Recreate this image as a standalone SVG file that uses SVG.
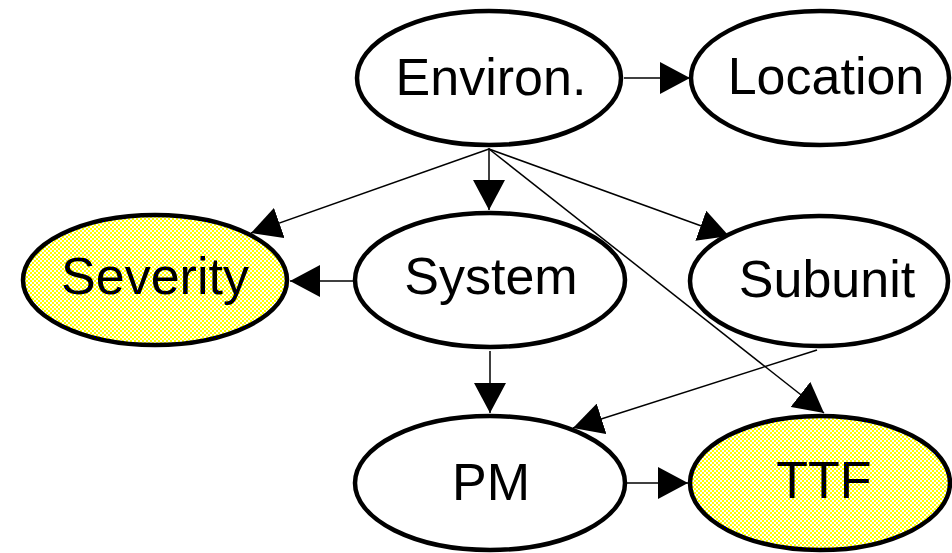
<svg xmlns="http://www.w3.org/2000/svg" width="952" height="553" viewBox="0 0 952 553">
  <defs>
    <!-- dithered light-yellow fill for the highlighted nodes -->
    <pattern id="dither" width="4" height="4" patternUnits="userSpaceOnUse">
      <rect width="4" height="4" fill="#ffff00"/>
      <rect x="0" y="0" width="2" height="2" fill="#ffffff"/>
      <rect x="2" y="2" width="2" height="2" fill="#ffffff"/>
    </pattern>
    <marker id="arrow" viewBox="0 0 30 32" refX="30" refY="16" markerWidth="30" markerHeight="32" markerUnits="userSpaceOnUse" orient="auto">
      <path d="M0,0 L30,16 L0,32 z" fill="#000"/>
    </marker>
  </defs>
  <style>
    .node ellipse { fill: #ffffff; stroke: #000; stroke-width: 4.5; }
    .node.hl ellipse { fill: url(#dither); }
    .node text { font-family: "Liberation Sans", Arial, sans-serif; font-size: 52px; fill: #000; text-anchor: middle; }
    .edges line { stroke: #000; stroke-width: 1.5; marker-end: url(#arrow); }
  </style>
  <rect width="952" height="553" fill="#ffffff"/>

  <g class="edges" id="edges">
    <line x1="624" y1="78" x2="690" y2="78"/>
    <line x1="489" y1="148" x2="489" y2="210"/>
    <line x1="489" y1="149" x2="251" y2="233"/>
    <line x1="489" y1="149" x2="729" y2="236"/>
    <line x1="489" y1="149" x2="824" y2="413"/>
    <line x1="353" y1="281" x2="290" y2="281"/>
    <line x1="490" y1="351" x2="490" y2="413"/>
    <line x1="817" y1="350" x2="573" y2="428"/>
    <line x1="627" y1="483" x2="688" y2="483"/>
  </g>

  <g class="node" id="environ">
    <ellipse cx="489" cy="78" rx="132" ry="67"/>
    <text x="491" y="95">Environ.</text>
  </g>
  <g class="node" id="location">
    <ellipse cx="820" cy="78" rx="129" ry="67"/>
    <text x="826" y="94">Location</text>
  </g>
  <g class="node hl" id="severity">
    <ellipse cx="155" cy="280" rx="132" ry="65"/>
    <text x="155" y="294">Severity</text>
  </g>
  <g class="node" id="system">
    <ellipse cx="490" cy="280" rx="135" ry="67"/>
    <text x="491" y="294">System</text>
  </g>
  <g class="node" id="subunit">
    <ellipse cx="819" cy="281" rx="129" ry="65"/>
    <text x="827" y="297">Subunit</text>
  </g>
  <g class="node" id="pm">
    <ellipse cx="490" cy="483" rx="135" ry="67"/>
    <text x="491" y="500">PM</text>
  </g>
  <g class="node hl" id="ttf">
    <ellipse cx="820" cy="483" rx="130" ry="67"/>
    <text x="824" y="498">TTF</text>
  </g>
</svg>
